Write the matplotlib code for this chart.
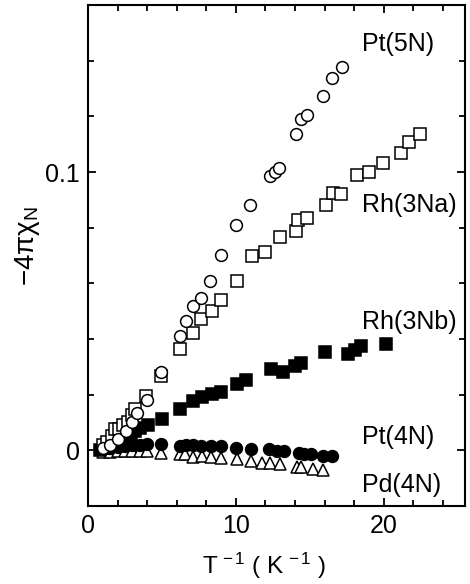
import matplotlib
matplotlib.use("Agg")
import matplotlib.pyplot as plt
from matplotlib.ticker import MultipleLocator, FixedLocator

plt.rcParams['font.family'] = ['Liberation Sans', 'DejaVu Sans']
plt.rcParams['mathtext.fontset'] = 'custom'
plt.rcParams['mathtext.rm'] = 'Liberation Sans'
plt.rcParams['mathtext.it'] = 'Liberation Sans:italic'

# Pt(5N) open circles
pt5_x = [1.0, 1.5, 2.0, 2.6, 3.0, 3.3, 3.97, 4.93, 6.22, 6.62, 7.11, 7.64, 8.24, 9.01,
         10.0, 10.95, 12.34, 12.64, 12.93, 14.05, 14.44, 14.78, 15.9, 16.47, 17.18]
pt5_y = [0.001, 0.002, 0.004, 0.007, 0.010, 0.0135, 0.0180, 0.0282, 0.0409, 0.0465, 0.0519,
         0.0546, 0.0609, 0.0702, 0.0808, 0.0881, 0.0987, 0.1001, 0.1013, 0.1135, 0.1192,
         0.1206, 0.1274, 0.1336, 0.1376]

# Rh(3Na) open squares
rh3a_x = [1.0, 1.3, 1.6, 1.85, 2.1, 2.4, 2.7, 2.95, 3.2, 3.9, 4.91, 6.22, 7.07, 7.61, 8.38,
          9.03, 10.07, 11.06, 11.96, 12.97, 14.05, 14.21, 14.78, 16.08, 16.57, 17.14, 18.2,
          19.0, 19.93, 21.17, 21.74, 22.48]
rh3a_y = [0.002, 0.003, 0.005, 0.0078, 0.0075, 0.009, 0.010, 0.0126, 0.015, 0.0194, 0.0266,
          0.0363, 0.0422, 0.0471, 0.0502, 0.0540, 0.0610, 0.0699, 0.0713, 0.0765, 0.0788,
          0.0828, 0.0833, 0.0881, 0.0924, 0.0921, 0.0990, 0.1001, 0.1031, 0.1067, 0.1108,
          0.1138]

# Rh(3Nb) filled squares
rh3b_x = [0.8, 1.1, 1.4, 1.7, 2.0, 2.3, 2.6, 2.9, 3.2, 3.5, 4.03, 4.98, 6.22, 7.11, 7.68,
          8.36, 8.99, 10.05, 10.66, 12.41, 13.2, 13.99, 14.44, 16.04, 17.59, 18.04, 18.49,
          20.14]
rh3b_y = [0.000, 0.001, 0.002, 0.003, 0.004, 0.0045, 0.0055, 0.006, 0.007, 0.008, 0.0090,
          0.0111, 0.0150, 0.0178, 0.0192, 0.0201, 0.0208, 0.0240, 0.0252, 0.0291, 0.0282,
          0.0302, 0.0314, 0.0353, 0.0345, 0.0360, 0.0376, 0.0382]

# Pt(4N) filled circles
pt4_x = [1.0, 1.5, 2.0, 2.5, 3.0, 3.5, 3.97, 4.93, 6.22, 6.62, 7.11, 7.64, 8.29, 8.99, 9.98,
         11.01, 12.25, 12.75, 13.24, 14.28, 14.59, 15.11, 15.9, 16.47]
pt4_y = [0.0005, 0.001, 0.0012, 0.0015, 0.0018, 0.002, 0.0021, 0.0022, 0.0017, 0.0018,
         0.0018, 0.0015, 0.0014, 0.0014, 0.0010, 0.0006, 0.0003, -0.0003, -0.0003, -0.0008,
         -0.0012, -0.0015, -0.0022, -0.0021]

# Pd(4N) open triangles
pd4_x = [1.0, 1.5, 2.0, 2.5, 3.0, 3.5, 3.97, 4.93, 6.22, 6.55, 7.11, 7.68, 8.29, 9.03, 10.05,
         11.01, 11.74, 12.3, 12.97, 14.14, 14.44, 15.22, 15.9]
pd4_y = [-0.0005, -0.0005, -0.0004, -0.0004, -0.0003, -0.0003, -0.0003, -0.0008, -0.0015,
         -0.0015, -0.0024, -0.0022, -0.0024, -0.0026, -0.0032, -0.0039, -0.0046, -0.0046,
         -0.0048, -0.0060, -0.0060, -0.0068, -0.0069]

labels = ['Pt(5N)', 'Rh(3Na)', 'Rh(3Nb)', 'Pt(4N)', 'Pd(4N)']
label_y = [0.146, 0.088, 0.046, 0.0047, -0.0126]
label_x = 18.5

fig = plt.figure(figsize=(4.70, 5.84), dpi=100)
ax = fig.add_axes([0.1872, 0.1336, 0.8022, 0.8578])

ms = 8.5
mew = 1.1
ax.plot(pd4_x, pd4_y, '^', ms=ms, mfc='white', mec='black', mew=mew, ls='none')
ax.plot(pt4_x, pt4_y, 'o', ms=ms, mfc='black', mec='black', mew=mew, ls='none')
ax.plot(rh3b_x, rh3b_y, 's', ms=ms - 0.5, mfc='black', mec='black', mew=mew, ls='none')
ax.plot(rh3a_x, rh3a_y, 's', ms=ms, mfc='white', mec='black', mew=mew, ls='none')
ax.plot(pt5_x, pt5_y, 'o', ms=ms, mfc='white', mec='black', mew=mew, ls='none')

for t, yv in zip(labels, label_y):
    ax.text(label_x, yv, t, fontsize=18, ha='left', va='center')

ax.set_xlim(0, 25.5)
ax.set_ylim(-0.02, 0.16)
ax.xaxis.set_major_locator(FixedLocator([0, 10, 20]))
ax.xaxis.set_minor_locator(MultipleLocator(2))
ax.yaxis.set_major_locator(FixedLocator([0, 0.1]))
ax.yaxis.set_minor_locator(MultipleLocator(0.02))
ax.set_xticklabels(['0', '10', '20'])
ax.set_yticklabels(['0', '0.1'])
ax.tick_params(which='both', direction='in', top=True, right=True, width=1.3)
ax.tick_params(which='major', length=6, labelsize=18, pad=6)
ax.tick_params(which='minor', length=4)
for s in ax.spines.values():
    s.set_linewidth(1.5)

fig.text(264 / 470, 1 - 566 / 584, r'T$^{\,-1}$ ( K$^{\,-1}$ )', fontsize=17.5,
         ha='center', va='center')
fig.text(28 / 470, 1 - 246 / 584, r'$\mathrm{-4\pi\chi_N}$', fontsize=20,
         ha='center', va='center', rotation=90)

fig.savefig('out.png', dpi=100)
